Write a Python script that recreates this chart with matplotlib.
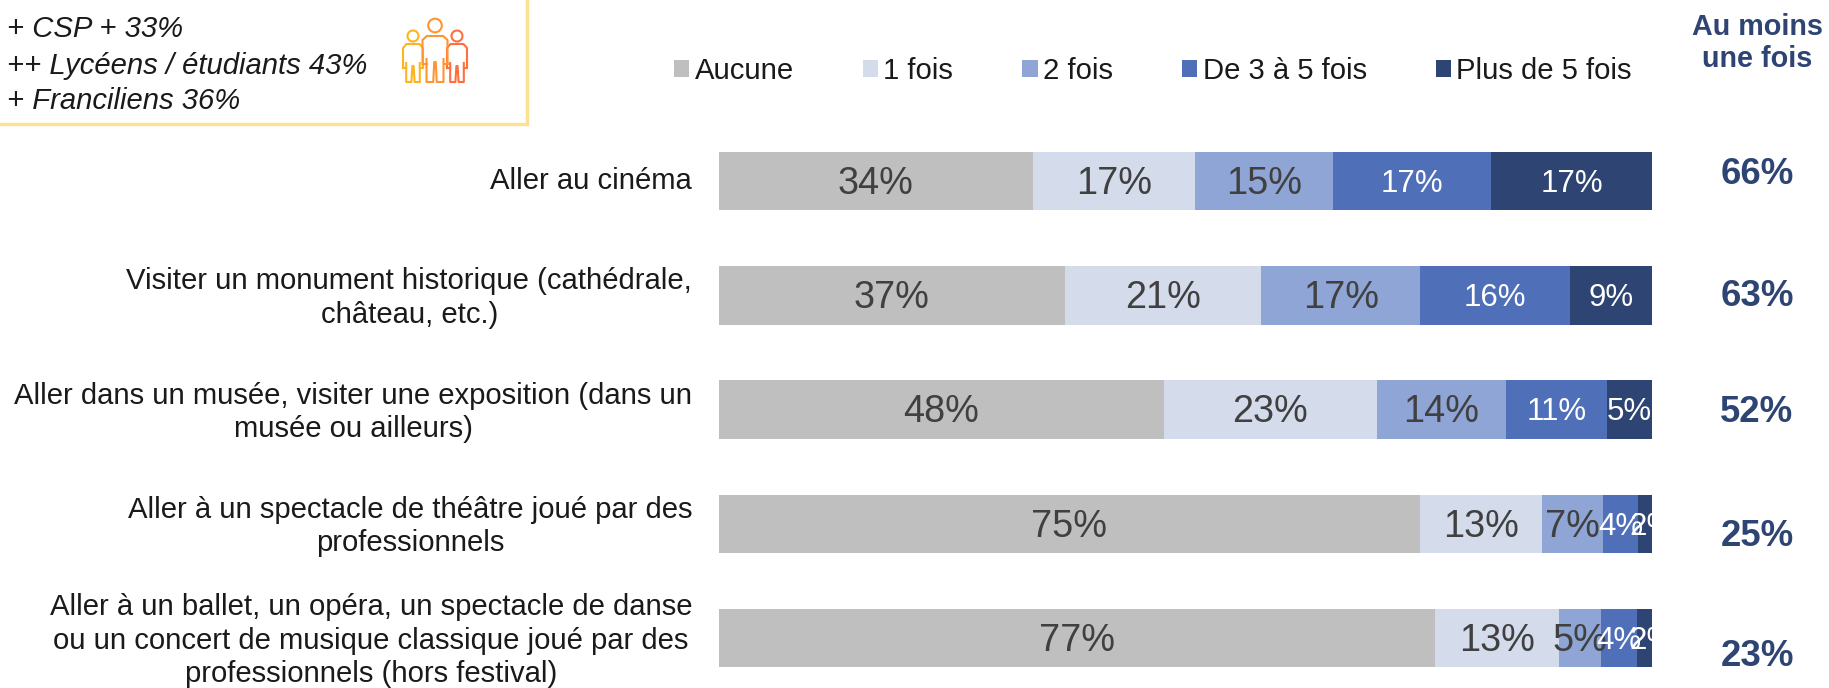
import matplotlib
matplotlib.use("Agg")
import matplotlib.pyplot as plt
import matplotlib.transforms as mtrans
import numpy as np
from matplotlib.patches import Circle

W, H = 1829, 688
plt.rcParams['font.family'] = ['Liberation Sans', 'DejaVu Sans']

categories = [
    "Aller au cinéma",
    "Visiter un monument historique (cathédrale,\nchâteau, etc.)",
    "Aller dans un musée, visiter une exposition (dans un\nmusée ou ailleurs)",
    "Aller à un spectacle de théâtre joué par des\nprofessionnels",
    "Aller à un ballet, un opéra, un spectacle de danse\nou un concert de musique classique joué par des\nprofessionnels (hors festival)",
]
series_names = ["Aucune", "1 fois", "2 fois", "De 3 à 5 fois", "Plus de 5 fois"]
aucune = [33.7, 37.1, 47.7, 75.2, 76.8]
une_fois = [17.3, 21.0, 22.8, 13.0, 13.2]
deux_fois = [14.8, 17.1, 13.9, 6.6, 4.5]
trois_cinq = [17.0, 16.0, 10.8, 3.7, 3.9]
plus_cinq = [17.2, 8.8, 4.8, 1.5, 1.6]
label_aucune = ["34%", "37%", "48%", "75%", "77%"]
label_une = ["17%", "21%", "23%", "13%", "13%"]
label_deux = ["15%", "17%", "14%", "7%", "5%"]
label_trois = ["17%", "16%", "11%", "4%", "4%"]
label_plus = ["17%", "9%", "5%", "2%", "2%"]
au_moins = ["66%", "63%", "52%", "25%", "23%"]
header = "Au moins\nune fois"
note_lines = ["+ CSP + 33%", "++ Lycéens / étudiants 43%", "+ Franciliens 36%"]
colors = ["#BFBFBF", "#D4DCEC", "#8FA5D5", "#4F70B8", "#2E4473"]
text_colors = ["#404040", "#404040", "#404040", "#FFFFFF", "#FFFFFF"]
label_sizes = [27.3, 27.3, 27.3, 22.5, 22.5]

fig = plt.figure(figsize=(W / 100, H / 100), dpi=100, facecolor="white")

x0, x1 = 718.5, 1652
top_px, slot = 124, 114.25
ax = fig.add_axes([x0 / W, 1 - (top_px + 5 * slot) / H, (x1 - x0) / W, 5 * slot / H])
ax.set_xlim(0, 100)
ax.set_ylim(4.5, -0.5)
ypos = np.arange(len(categories))

series = [aucune, une_fois, deux_fois, trois_cinq, plus_cinq]
labels = [label_aucune, label_une, label_deux, label_trois, label_plus]
left = np.zeros(len(categories))
handles = []
for vals, name, col, tcol, lab, size in zip(series, series_names, colors, text_colors, labels, label_sizes):
    vals = np.array(vals)
    b = ax.barh(ypos, vals, left=left, height=0.51, color=col, label=name, linewidth=0)
    handles.append(b)
    for y, l, v, s in zip(ypos, left, vals, lab):
        # the narrowest label sits right of centre and is cut by the bar end
        shift = 0.8 if v < 2 else 0
        ax.text(l + v / 2 + shift, y + 0.025, s, ha="center", va="center", fontsize=size, color=tcol,
                clip_on=True)
    left = left + vals

ax.set_yticks(ypos)
ax.set_yticklabels(categories, fontsize=21.1, color="#1A1A1A", ha="right", multialignment="center",
                   linespacing=1.25)
ax.tick_params(axis="y", length=0, pad=19)
ax.tick_params(axis="x", length=0, labelbottom=False)
up = mtrans.ScaledTranslation(0, 3 / 100, fig.dpi_scale_trans)
for lab in ax.get_yticklabels():
    lab.set_transform(lab.get_transform() + up)
for s in ax.spines.values():
    s.set_visible(False)
ax.patch.set_alpha(0)

ov = fig.add_axes([0, 0, 1, 1])
ov.set_xlim(0, W)
ov.set_ylim(H, 0)
ov.axis("off")
ov.patch.set_alpha(0)

ov.plot([527, 527, -5], [-5, 124, 124], color="#FFE093", lw=2.4, solid_joinstyle="miter")
for y, t in zip([29, 66, 101], note_lines):
    ov.text(7, y, t, fontsize=21.1, style="italic", color="#1A1A1A", va="center", ha="left")


def person(cx, head_y, head_r, top, arm_end, bottom, half, col, lw=1.5):
    ov.add_patch(Circle((cx, head_y), head_r, fill=False, ec=col, lw=lw))
    ov.plot([cx - half, cx - half, cx - half * 0.65, cx + half * 0.65, cx + half, cx + half],
            [arm_end, top + 4, top, top, top + 4, arm_end], color=col, lw=lw)
    leg = half * 0.68
    inner = half * 0.06
    mid = top + (bottom - top) * 0.5
    ov.plot([cx - leg, cx - leg, cx - inner - 1, cx - inner, cx + inner, cx + inner + 1, cx + leg, cx + leg],
            [mid, bottom, bottom, mid + 3, mid + 3, bottom, bottom, mid], color=col, lw=lw)
    ov.plot([cx - half, cx - leg], [arm_end, arm_end], color=col, lw=lw)
    ov.plot([cx + half, cx + leg], [arm_end, arm_end], color=col, lw=lw)


person(413, 36, 5.5, 44, 68, 82, 10, "#FFB41E")
person(457, 36, 5.5, 44, 68, 82, 10, "#FF6F3C")
person(435, 25.5, 6.8, 36, 64, 82, 12.5, "#FF9433")

tot_y = [174, 296, 413, 537, 657]
for y, t in zip(tot_y, au_moins):
    ov.text(1757, y, t, fontsize=26.4, fontweight="bold", color="#2E4473", ha="center", va="center")
ov.text(1757, 43, header, fontsize=20.7, fontweight="bold", color="#2E4473", ha="center", va="center",
        linespacing=1.15)

fig.legend(handles=handles, labels=series_names, ncol=5, frameon=False, fontsize=21.1,
           loc="center left", bbox_to_anchor=(674 / W, 1 - 71 / H),
           handlelength=0.52, handleheight=0.52, handletextpad=0.18, columnspacing=2.36,
           labelcolor="#1A1A1A", borderpad=0, borderaxespad=0)

fig.savefig("out.png", dpi=100, facecolor="white")
